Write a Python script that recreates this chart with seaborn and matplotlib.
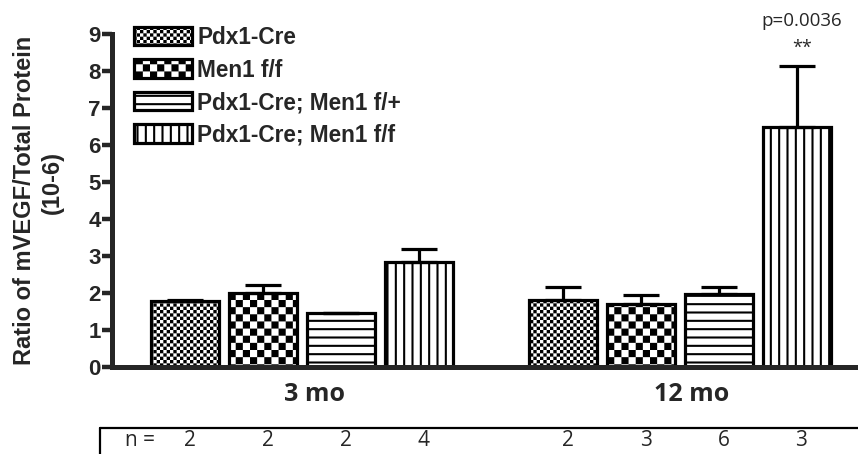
import numpy as np
import pandas as pd
import seaborn as sns
import matplotlib.pyplot as plt
import matplotlib.hatch as mhatch
from matplotlib.path import Path
from matplotlib.lines import Line2D
from matplotlib.transforms import blended_transform_factory, ScaledTranslation

# values (mean and upper SEM, x10^-6)
periods = ['3 mo', '12 mo']
genotypes = ['Pdx1-Cre', 'Men1 f/f', 'Pdx1-Cre; Men1 f/+', 'Pdx1-Cre; Men1 f/f']
mean_3mo = [1.79, 2.01, 1.45, 2.83]
sem_3mo = [0.03, 0.20, 0.0, 0.35]
mean_12mo = [1.81, 1.70, 1.96, 6.49]
sem_12mo = [0.35, 0.24, 0.21, 1.65]
n_3mo = [2, 2, 2, 4]
n_12mo = [2, 3, 6, 3]
p_label = 'p=0.0036'
star_label = '**'
hatches = ['o', 'O', '--', '||']


class CheckerHatch(mhatch.HatchPatternBase):
    """Filled checkerboard hatch: 'o' gives fine squares, 'O' coarse ones."""

    def __init__(self, hatch, density):
        self.cells = 30 if 'o' in hatch else 14 if 'O' in hatch else 0
        self.num_vertices = self.cells * self.cells // 2 * 5

    def set_vertices_and_codes(self, vertices, codes):
        n = self.cells
        # agg strokes the hatch path as well as filling it, so shrink the squares
        d = plt.rcParams['hatch.linewidth'] / 144
        squares = []
        for i in range(n):
            for j in range(n):
                if (i + j) % 2 == 0:
                    x0, x1 = i / n + d, (i + 1) / n - d
                    y0, y1 = j / n + d, (j + 1) / n - d
                    squares.append([[x0, y0], [x1, y0], [x1, y1], [x0, y1], [x0, y0]])
        vertices[:] = np.array(squares).reshape(-1, 2)
        codes[:] = np.tile([Path.MOVETO, Path.LINETO, Path.LINETO,
                            Path.LINETO, Path.CLOSEPOLY], len(squares))


# keep lines, swap the circle hatches for checkerboards
mhatch._hatch_types = [mhatch.HorizontalHatch, mhatch.VerticalHatch, CheckerHatch]

sns.set_style('ticks')
plt.rcParams['font.family'] = ['Liberation Sans', 'DejaVu Sans']
plt.rcParams['hatch.linewidth'] = 1.5
plt.rcParams['hatch.color'] = 'black'

df = pd.DataFrame({
    'period': np.repeat(periods, len(genotypes)),
    'genotype': genotypes * len(periods),
    'ratio': mean_3mo + mean_12mo,
    'sem': sem_3mo + sem_12mo,
    'n': n_3mo + n_12mo,
})

fig = plt.figure(figsize=(8.58, 4.54), dpi=100)
ax = fig.add_axes([112 / 858, 1 - 367 / 454, 1 - 112 / 858, 333 / 454])

sns.barplot(data=df, x='period', y='ratio', hue='genotype', order=periods,
            hue_order=genotypes, palette={g: 'white' for g in genotypes},
            saturation=1, edgecolor='black', linewidth=2.3, width=0.825, gap=0.13,
            errorbar=None, legend=False, ax=ax)
bar_conts = list(ax.containers)

# hatch each genotype and add the upper error bars
trans = blended_transform_factory(ax.transData, fig.transFigure)
for k, (cont, h) in enumerate(zip(bar_conts, hatches)):
    sub = df[df['genotype'] == genotypes[k]].set_index('period').loc[periods]
    xs = []
    for bar in cont:
        bar.set_hatch(h)
        xs.append(bar.get_x() + bar.get_width() / 2)
    ax.errorbar(xs, sub['ratio'], yerr=[np.zeros(len(xs)), sub['sem']], fmt='none',
                ecolor='black', elinewidth=2.3, capsize=13, capthick=2.3, zorder=4)
    # n per bar, under the axis
    for x, n in zip(xs, sub['n']):
        ax.text(x + 0.012, 1 - 440 / 454, str(n), transform=trans, ha='center',
                va='center', fontsize=15, family='Open Sans')
    if k == len(genotypes) - 1:
        top = sub['ratio'].iloc[-1] + sub['sem'].iloc[-1]
        ax.text(xs[-1] + 0.013, top + 0.48, star_label, ha='center', va='center',
                fontsize=13, family='Open Sans')
        ax.text(xs[-1] + 0.013, top + 1.22, p_label, ha='center', va='center',
                fontsize=13.5, family='Open Sans')

ax.set_xlim(-0.503, 1.471)
ax.set_ylim(0, 9)
ax.set_yticks(range(10))
ax.set_xticks(range(len(periods)), periods)
ax.set_xlabel('')
ax.set_ylabel('')
sns.despine(ax=ax)
for side in ['left', 'bottom']:
    ax.spines[side].set_linewidth(3.6)
ax.tick_params(axis='y', length=7, width=3.2, pad=1, labelsize=16)
ax.tick_params(axis='x', length=0, pad=11)
for lbl in ax.get_yticklabels():
    lbl.set_fontweight('bold')
for lbl in ax.get_xticklabels():
    lbl.set_fontfamily('Open Sans')
    lbl.set_fontweight('bold')
    lbl.set_fontsize(18)
    lbl.set_transform(lbl.get_transform() + ScaledTranslation(0.12, 0, fig.dpi_scale_trans))

# y label: two centred lines
fig.text(25 / 858, 1 - 200 / 454, 'Ratio of mVEGF/Total Protein', rotation=90,
         ha='center', va='center', fontsize=17, fontweight='bold')
fig.text(52 / 858, 1 - 182 / 454, '(10-6)', rotation=90, ha='center', va='center',
         fontsize=17, fontweight='bold')

handles = [c.patches[0] for c in bar_conts]
ax.legend(handles, genotypes, loc='upper left', bbox_to_anchor=(134 / 858, 1 - 26 / 454),
          bbox_transform=fig.transFigure, frameon=False, handlelength=2.57,
          handleheight=0.88, handletextpad=0.22, labelspacing=0.42, borderpad=0,
          borderaxespad=0, prop=dict(family='Liberation Sans', weight='bold', size=16.3))

# the "n =" strip under the chart
fig.add_artist(Line2D([100 / 858, 1], [1 - 428 / 454] * 2, color='black', lw=1.6))
fig.add_artist(Line2D([100 / 858] * 2, [1 - 428 / 454, 0], color='black', lw=1.6))
fig.text(140 / 858, 1 - 440 / 454, 'n =', ha='center', va='center', fontsize=15,
         family='Open Sans')

fig.savefig('out.png', dpi=100)
